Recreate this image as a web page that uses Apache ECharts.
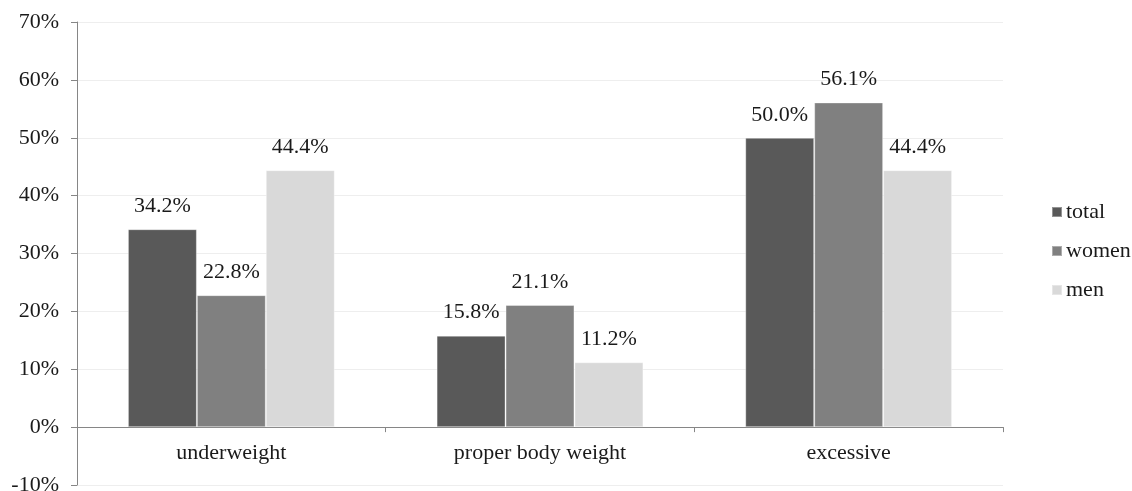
<!DOCTYPE html>
<html>
<head>
<meta charset="utf-8">
<script src="https://cdn.jsdelivr.net/npm/echarts@6/dist/echarts.min.js"></script>
<style>
  html, body { margin: 0; padding: 0; background: #ffffff; }
  #chart { width: 1132px; height: 491px; }
</style>
</head>
<body>
<div id="chart"></div>
<script>
// Body weight categories and shares (%) for each group
const categories = ['underweight', 'proper body weight', 'excessive'];
const totalValues = [34.2, 15.8, 50.0];
const womenValues = [22.8, 21.1, 56.1];
const menValues = [44.4, 11.2, 44.4];
const seriesNames = ['total', 'women', 'men'];
const seriesColors = ['#595959', '#808080', '#d9d9d9'];

const font = '"Liberation Serif", serif';
const fontSize = 22;

function barSeries(name, data, color) {
  return {
    name: name,
    type: 'bar',
    data: data,
    barGap: '0%',
    barCategoryGap: '33%',
    itemStyle: { color: color, borderColor: 'rgba(255,255,255,0.35)', borderWidth: 1 },
    label: {
      show: true,
      position: 'top',
      distance: 12,
      color: '#1a1a1a',
      fontFamily: font,
      fontSize: fontSize,
      formatter: p => p.value.toFixed(1) + '%'
    }
  };
}

const chart = echarts.init(document.getElementById('chart'));
chart.setOption({
  animation: false,
  backgroundColor: '#ffffff',
  grid: { left: 77, right: 129, top: 22, bottom: 6, containLabel: false, outerBoundsMode: 'none' },
  legend: {
    orient: 'vertical',
    left: 1051,
    top: 201,
    padding: 0,
    itemWidth: 10,
    itemHeight: 10,
    itemGap: 17,
    icon: 'rect',
    data: seriesNames,
    textStyle: { fontFamily: font, fontSize: fontSize, color: '#1a1a1a', padding: [0, 0, 0, -1] }
  },
  xAxis: {
    type: 'category',
    data: categories,
    axisLine: { onZero: true, lineStyle: { color: '#868686', width: 1 } },
    axisTick: { show: true, length: 5, lineStyle: { color: '#868686' } },
    // category names sit just under the zero line, above the -10% row
    axisLabel: { fontFamily: font, fontSize: fontSize, color: '#1a1a1a', margin: -43 }
  },
  yAxis: {
    type: 'value',
    min: -10,
    max: 70,
    interval: 10,
    axisLine: { show: true, lineStyle: { color: '#868686', width: 1 } },
    axisTick: { show: true, length: 6, lineStyle: { color: '#868686' } },
    splitLine: { show: true, lineStyle: { color: '#eeeeee', width: 1 } },
    axisLabel: {
      fontFamily: font,
      fontSize: fontSize,
      color: '#1a1a1a',
      margin: 18,
      formatter: v => v + '%'
    }
  },
  series: [
    barSeries(seriesNames[0], totalValues, seriesColors[0]),
    barSeries(seriesNames[1], womenValues, seriesColors[1]),
    barSeries(seriesNames[2], menValues, seriesColors[2])
  ]
});
</script>
</body>
</html>
